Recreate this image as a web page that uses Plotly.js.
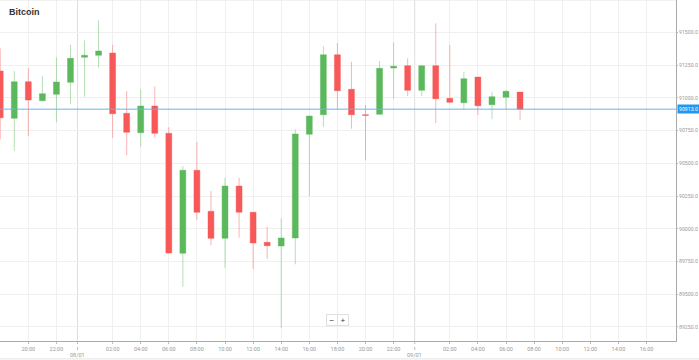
<!DOCTYPE html>
<html>
<head>
<meta charset="utf-8">
<script src="https://cdn.plot.ly/plotly-3.0.1.min.js"></script>
<style>html,body{margin:0;padding:0;background:#fff;}#chart{width:699px;height:360px;}</style>
</head>
<body>
<div id="chart"></div>
<script>
// Hourly candles, 07/01 18:00 -> 09/01 07:00
const times = [
  '2025-01-07 18:00','2025-01-07 19:00','2025-01-07 20:00','2025-01-07 21:00','2025-01-07 22:00','2025-01-07 23:00',
  '2025-01-08 00:00','2025-01-08 01:00','2025-01-08 02:00','2025-01-08 03:00','2025-01-08 04:00','2025-01-08 05:00',
  '2025-01-08 06:00','2025-01-08 07:00','2025-01-08 08:00','2025-01-08 09:00','2025-01-08 10:00','2025-01-08 11:00',
  '2025-01-08 12:00','2025-01-08 13:00','2025-01-08 14:00','2025-01-08 15:00','2025-01-08 16:00','2025-01-08 17:00',
  '2025-01-08 18:00','2025-01-08 19:00','2025-01-08 20:00','2025-01-08 21:00','2025-01-08 22:00','2025-01-08 23:00',
  '2025-01-09 00:00','2025-01-09 01:00','2025-01-09 02:00','2025-01-09 03:00','2025-01-09 04:00','2025-01-09 05:00',
  '2025-01-09 06:00','2025-01-09 07:00'
];
const opens  = [91204.5,90843.4,91122.8,90977.8,91026.6,91118.3,91309.1,91324.4,91341.9,90881.6,90733.5,90937.3,
                90728.9,89812.7,90446.4,90133.3,89927.2,90326.5,90125.7,89896.7,89868.4,89929.5,90721.3,90870.9,
                91328.9,91064.8,90870.9,90873.9,91227.4,91245.0,91057.2,91245.0,90996.1,90962.5,91158.7,90947.2,
                91003.7,91044.2];
const highs  = [91377.8,91204.5,91227.4,91166.4,91309.1,91405.3,91438.9,91591.6,91405.3,91051.8,91064.8,91087.7,
                90774.7,90479.2,90662.4,90288.3,90389.9,90389.9,90130.0,90013.5,90079.9,90759.4,90862.0,91393.1,
                91418.3,91275.5,90944.9,91280.9,91423.7,91301.5,91245.0,91568.7,91403.0,91199.2,91158.7,91046.5,
                91059.5,91044.2];
const lows   = [90683.1,90593.7,90708.3,90975.5,90812.9,90950.3,91008.3,91229.7,90695.3,90560.9,90626.6,90695.3,
                89810.0,89557.7,90069.2,89873.7,89702.7,89931.8,89692.8,89771.4,89242.3,89728.7,90250.2,90779.3,
                90906.8,90764.0,90522.7,90873.9,90993.0,91013.7,91013.7,90807.5,90957.9,90912.1,90868.6,90838.0,
                90912.1,90830.4];
const closes = [90847.9,91122.8,90983.1,91031.2,91120.5,91301.5,91324.4,91357.2,90878.5,90736.5,90937.3,90728.9,
                89814.9,90446.4,90125.7,89927.2,90326.5,90125.7,89891.3,89870.7,89929.5,90723.5,90860.9,91328.9,
                91054.1,90870.9,90866.3,91225.1,91240.4,91057.2,91245.0,90993.0,90965.5,91145.7,90939.6,91008.3,
                91049.5,90913.0];
const lastPrice = 90913.0;

const tickTimes = [
  '2025-01-07 20:00','2025-01-07 22:00',
  '2025-01-08 02:00','2025-01-08 04:00','2025-01-08 06:00','2025-01-08 08:00','2025-01-08 10:00','2025-01-08 12:00',
  '2025-01-08 14:00','2025-01-08 16:00','2025-01-08 18:00','2025-01-08 20:00','2025-01-08 22:00',
  '2025-01-09 02:00','2025-01-09 04:00','2025-01-09 06:00','2025-01-09 08:00','2025-01-09 10:00','2025-01-09 12:00',
  '2025-01-09 14:00','2025-01-09 16:00'
];
const tickLabels = ['20:00','22:00','02:00','04:00','06:00','08:00','10:00','12:00','14:00','16:00','18:00','20:00','22:00',
                    '02:00','04:00','06:00','08:00','10:00','12:00','14:00','16:00'];
const dateTimes = ['2025-01-07 23:30','2025-01-08 23:30'];
const dateLabels = ['08/01','09/01'];

const trace = {
  type: 'candlestick',
  x: times, open: opens, high: highs, low: lows, close: closes,
  increasing: {line: {color: 'rgba(92,184,92,0.45)', width: 1}, fillcolor: '#5cb85c'},
  decreasing: {line: {color: 'rgba(247,88,88,0.45)', width: 1}, fillcolor: '#f75858'},
  whiskerwidth: 0,
  showlegend: false,
  hoverinfo: 'none'
};

const shapes = [];
shapes.push({type:'line', xref:'paper', x0:0, x1:1, yref:'y', y0:lastPrice, y1:lastPrice,
             line:{color:'rgba(100,180,235,0.65)', width:1.5}, layer:'above'});
dateTimes.forEach(function(t){
  shapes.push({type:'line', xref:'x', x0:t, x1:t, yref:'paper', y0:0, y1:1,
               line:{color:'#dedede', width:1}, layer:'below'});
  shapes.push({type:'line', xref:'x', x0:t, x1:t, yref:'paper', y0:0, y1:-0.03,
               line:{color:'#bbb', width:1, dash:'dot'}});
});
shapes.push({type:'line', xref:'paper', x0:0, x1:1, yref:'paper', y0:1, y1:1, line:{color:'#e6e6e6', width:1}});
shapes.push({type:'line', xref:'paper', x0:0, x1:699/676, yref:'paper', y0:-0.0525, y1:-0.0525, line:{color:'#e3e3e3', width:1}});

const annotations = [];
dateLabels.forEach(function(lbl, i){
  annotations.push({xref:'x', x:dateTimes[i], yref:'paper', y:0, yanchor:'top', yshift:-9,
                    text:lbl, showarrow:false, font:{family:'Roboto, Arial, sans-serif', size:5.5, color:'#999'}});
});
annotations.push({xref:'paper', x:1, xanchor:'left', xshift:1, yref:'y', y:lastPrice,
                  text:lastPrice.toFixed(1), showarrow:false, bgcolor:'#2196f3', borderpad:1,
                  font:{family:'Roboto, Arial, sans-serif', size:5.2, color:'#fff'}});
annotations.push({xref:'paper', x:332/676, yref:'paper', y:(341-321)/341, yshift:-5, text:'\u2212', showarrow:false,
                  bgcolor:'#fff', bordercolor:'#e0e0e0', borderwidth:1, borderpad:1, width:8, height:8,
                  font:{family:'Arial, sans-serif', size:8, color:'#333'}});
annotations.push({xref:'paper', x:343/676, yref:'paper', y:(341-321)/341, yshift:-5, text:'+', showarrow:false,
                  bgcolor:'#fff', bordercolor:'#e0e0e0', borderwidth:1, borderpad:1, width:8, height:8,
                  font:{family:'Arial, sans-serif', size:8, color:'#333'}});

const layout = {
  width: 699, height: 360,
  margin: {l:0, r:23, t:0, b:19, pad:0},
  paper_bgcolor: '#fff', plot_bgcolor: '#fff',
  title: {text:'<b>Bitcoin</b>', xref:'container', yref:'container', x:9/699, xanchor:'left', y:1-11.5/360, yanchor:'middle',
          font:{family:'Arial, Liberation Sans, sans-serif', size:9, color:'#333'}},
  xaxis: {
    type:'date', range:['2025-01-07 17:59','2025-01-09 18:06'],
    rangeslider:{visible:false},
    tickvals: tickTimes, ticktext: tickLabels,
    tickfont:{family:'Roboto, Arial, sans-serif', size:5.5, color:'#999'},
    ticks:'outside', ticklen:2, tickcolor:'#bbb',
    showgrid:true, gridcolor:'#f0f0f0', gridwidth:1,
    showline:true, linecolor:'#aaa', linewidth:1,
    zeroline:false, fixedrange:true
  },
  yaxis: {
    side:'right', range:[89143, 91747], dtick:250, tickformat:'.1f',
    tickfont:{family:'Roboto, Arial, sans-serif', size:5.2, color:'#999'},
    ticks:'outside', ticklen:1, tickcolor:'#bbb',
    showgrid:true, gridcolor:'#f0f0f0', gridwidth:1,
    showline:true, linecolor:'#aaa', linewidth:1,
    zeroline:false, fixedrange:true
  },
  boxgap: 0.4,
  shapes: shapes,
  annotations: annotations,
  showlegend: false
};

Plotly.newPlot('chart', [trace], layout, {displayModeBar:false, staticPlot:true});
</script>
</body>
</html>
